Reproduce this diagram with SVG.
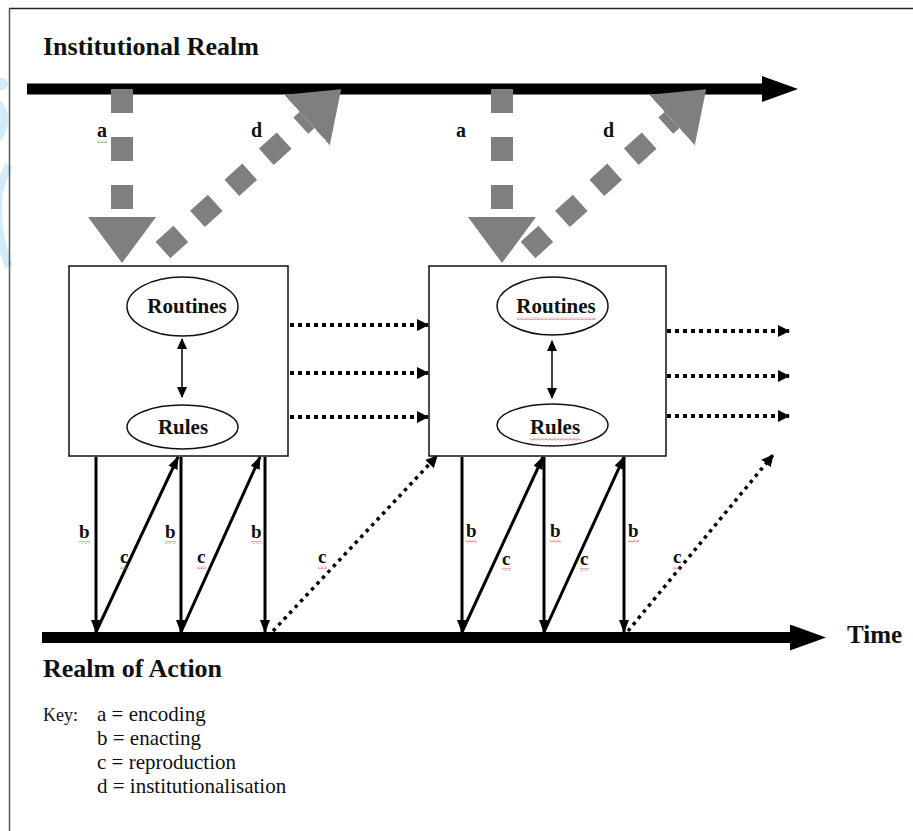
<svg xmlns="http://www.w3.org/2000/svg" width="913" height="831" viewBox="0 0 913 831">
  <style>
    .title { font-family: "Liberation Serif", "Times New Roman", serif; font-weight: bold; font-size: 26px; fill: #111; }
    .lbl { font-family: "Liberation Serif", "Times New Roman", serif; font-weight: bold; font-size: 19px; fill: #111; }
    .node-text { font-family: "Liberation Serif", "Times New Roman", serif; font-weight: bold; font-size: 21px; fill: #111; text-anchor: middle; }
    .key { font-family: "Liberation Serif", "Times New Roman", serif; font-size: 21px; fill: #111; }
    .keyhead { font-family: "Liberation Serif", "Times New Roman", serif; font-size: 18px; fill: #111; }
    .box { fill: #fff; stroke: #111; stroke-width: 1.5; }
    .oval { fill: #fff; stroke: #111; stroke-width: 1.5; }
    .solid { stroke: #000; stroke-width: 3; fill: none; marker-end: url(#headSolid); }
    .dotted { stroke: #000; stroke-width: 4; stroke-dasharray: 4 4; fill: none; marker-end: url(#headDot); }
    .dotdiag { stroke: #000; stroke-width: 3.5; stroke-dasharray: 3.5 4.5; fill: none; marker-end: url(#headDot); }
    .inner { stroke: #000; stroke-width: 1.5; fill: none; marker-start: url(#headSmall); marker-end: url(#headSmall); }
    .gray { stroke: #7f7f7f; stroke-width: 22; fill: none; marker-end: url(#headBig); }
    .timeline { stroke: #000; stroke-width: 11; fill: none; marker-end: url(#headTime); }
    .wm { fill: #d2ecfa; }
  </style>
  <defs>
    <marker id="headSolid" markerUnits="userSpaceOnUse" markerWidth="13" markerHeight="10" refX="12" refY="5" orient="auto">
      <path d="M0,0 L13,5 L0,10 z" fill="#000"/>
    </marker>
    <marker id="headDot" markerUnits="userSpaceOnUse" markerWidth="12" markerHeight="12" refX="11" refY="6" orient="auto">
      <path d="M0,0 L12,6 L0,12 z" fill="#000"/>
    </marker>
    <marker id="headSmall" markerUnits="userSpaceOnUse" markerWidth="11" markerHeight="10" refX="10" refY="5" orient="auto-start-reverse">
      <path d="M0,0 L11,5 L0,10 z" fill="#000"/>
    </marker>
    <marker id="headBig" markerUnits="userSpaceOnUse" markerWidth="46" markerHeight="68" refX="0" refY="34" orient="auto">
      <path d="M0,0 L46,34 L0,68 z" fill="#7f7f7f"/>
    </marker>
    <marker id="headTime" markerUnits="userSpaceOnUse" markerWidth="36" markerHeight="26" refX="0" refY="13" orient="auto">
      <path d="M0,0 L36,13 L0,26 z" fill="#000"/>
    </marker>
    <pattern id="wavyRed" width="4" height="3" patternUnits="userSpaceOnUse">
      <path d="M0,2.5 L2,0.5 L4,2.5" stroke="#e04040" stroke-width="0.9" fill="none"/>
    </pattern>
    <pattern id="wavyGreen" width="4" height="3" patternUnits="userSpaceOnUse">
      <path d="M0,2.5 L2,0.5 L4,2.5" stroke="#3a9a3a" stroke-width="0.9" fill="none"/>
    </pattern>
  </defs>

  <rect x="0" y="0" width="913" height="831" fill="#fff"/>

  <!-- faint watermark fragments at left edge -->
  <g id="watermark">
    <circle class="wm" cx="2" cy="84" r="6"/>
    <path class="wm" d="M0,100 Q9,108 8,122 Q7,134 0,142 z"/>
    <path d="M9,165 Q-4,190 -2,215 Q0,245 9,267" stroke="#d2ecfa" stroke-width="8" fill="none"/>
  </g>

  <!-- frame -->
  <line x1="9" y1="8.5" x2="913" y2="8.5" stroke="#222" stroke-width="1.5"/>
  <line x1="9.5" y1="8" x2="9.5" y2="831" stroke="#555" stroke-width="1.5"/>

  <!-- realms and time axis -->
  <g id="institutional-realm">
    <text class="title" x="43" y="55">Institutional Realm</text>
    <line class="timeline" x1="27" y1="89" x2="762" y2="89"/>
  </g>
  <g id="realm-of-action">
    <line class="timeline" x1="42" y1="637.5" x2="790" y2="637.5"/>
    <text class="title" x="43" y="677">Realm of Action</text>
    <text class="title" x="847" y="643" style="font-size:25px">Time</text>
  </g>

  <!-- nodes -->
  <g id="box1">
    <rect class="box" x="69" y="266" width="219" height="190"/>
    <g id="routines1">
      <ellipse class="oval" cx="182.5" cy="306.5" rx="55.5" ry="29.5"/>
      <text class="node-text" x="187" y="313">Routines</text>
    </g>
    <g id="rules1">
      <ellipse class="oval" cx="182.5" cy="427" rx="55.5" ry="22"/>
      <text class="node-text" x="183" y="434">Rules</text>
    </g>
  </g>
  <g id="box2">
    <rect class="box" x="429" y="266" width="237" height="190"/>
    <g id="routines2">
      <ellipse class="oval" cx="552.5" cy="306" rx="55.5" ry="29"/>
      <text class="node-text" x="556" y="313">Routines</text>
      <rect x="517" y="317" width="79" height="3" fill="url(#wavyRed)"/>
    </g>
    <g id="rules2">
      <ellipse class="oval" cx="552.5" cy="425" rx="55.5" ry="21"/>
      <text class="node-text" x="555" y="434">Rules</text>
      <rect x="530" y="438" width="51" height="3" fill="url(#wavyRed)"/>
    </g>
  </g>

  <!-- connectors -->
  <g id="connectors">
    <!-- a: encoding -->
    <line class="gray" x1="122" y1="89" x2="122" y2="217" stroke-dasharray="24 24"/>
    <line class="gray" x1="502" y1="89" x2="502" y2="217" stroke-dasharray="24 24"/>
    <!-- d: institutionalisation -->
    <line class="gray" x1="163" y1="250" x2="307" y2="120" stroke-dasharray="24 22.4"/>
    <line class="gray" x1="528" y1="250" x2="672" y2="120" stroke-dasharray="24 22.4"/>

    <!-- routines <-> rules -->
    <line class="inner" x1="182" y1="339" x2="182" y2="397"/>
    <line class="inner" x1="552" y1="341" x2="552" y2="398"/>

    <!-- dotted continuity arrows -->
    <line class="dotted" x1="290" y1="325" x2="428" y2="325"/>
    <line class="dotted" x1="290" y1="373" x2="428" y2="373"/>
    <line class="dotted" x1="290" y1="417" x2="428" y2="417"/>
    <line class="dotted" x1="667" y1="331" x2="789" y2="331"/>
    <line class="dotted" x1="667" y1="376" x2="789" y2="376"/>
    <line class="dotted" x1="667" y1="416" x2="789" y2="416"/>

    <!-- b: enacting, c: reproduction (box 1) -->
    <line class="solid" x1="96" y1="457" x2="96" y2="632"/>
    <line class="solid" x1="96" y1="632" x2="178" y2="457"/>
    <line class="solid" x1="181" y1="457" x2="181" y2="632"/>
    <line class="solid" x1="181" y1="632" x2="260" y2="457"/>
    <line class="solid" x1="265" y1="457" x2="265" y2="632"/>
    <line class="dotdiag" x1="273" y1="631" x2="437" y2="456"/>

    <!-- b / c (box 2) -->
    <line class="solid" x1="462" y1="457" x2="462" y2="632"/>
    <line class="solid" x1="462" y1="632" x2="543" y2="457"/>
    <line class="solid" x1="544" y1="457" x2="544" y2="632"/>
    <line class="solid" x1="544" y1="632" x2="624" y2="457"/>
    <line class="solid" x1="624" y1="457" x2="624" y2="632"/>
    <line class="dotdiag" x1="628" y1="631" x2="773" y2="455"/>
  </g>

  <!-- connector labels -->
  <g id="labels">
    <text class="lbl" x="97" y="137" style="font-size:20px">a</text>
    <rect x="97" y="140" width="10" height="3" fill="url(#wavyGreen)"/>
    <text class="lbl" x="251" y="137" style="font-size:20px">d</text>
    <text class="lbl" x="456" y="137" style="font-size:20px">a</text>
    <text class="lbl" x="603" y="137" style="font-size:20px">d</text>

    <text class="lbl" x="79" y="538">b</text>
    <rect x="79" y="541" width="11" height="3" fill="url(#wavyGreen)"/>
    <text class="lbl" x="120" y="563">c</text>
    <rect x="120" y="566" width="9" height="3" fill="url(#wavyGreen)"/>
    <text class="lbl" x="165" y="538">b</text>
    <rect x="165" y="541" width="11" height="3" fill="url(#wavyRed)"/>
    <text class="lbl" x="197" y="563">c</text>
    <rect x="197" y="566" width="9" height="3" fill="url(#wavyRed)"/>
    <text class="lbl" x="251" y="538">b</text>
    <rect x="251" y="541" width="11" height="3" fill="url(#wavyRed)"/>
    <text class="lbl" x="318" y="563">c</text>
    <rect x="318" y="566" width="9" height="3" fill="url(#wavyRed)"/>

    <text class="lbl" x="466" y="537">b</text>
    <rect x="466" y="540" width="11" height="3" fill="url(#wavyRed)"/>
    <text class="lbl" x="502" y="565">c</text>
    <rect x="502" y="568" width="9" height="3" fill="url(#wavyRed)"/>
    <text class="lbl" x="550" y="537">b</text>
    <rect x="550" y="540" width="11" height="3" fill="url(#wavyRed)"/>
    <text class="lbl" x="580" y="565">c</text>
    <rect x="580" y="568" width="9" height="3" fill="url(#wavyRed)"/>
    <text class="lbl" x="628" y="537">b</text>
    <rect x="628" y="540" width="11" height="3" fill="url(#wavyRed)"/>
    <text class="lbl" x="673" y="563">c</text>
    <rect x="673" y="566" width="9" height="3" fill="url(#wavyRed)"/>
  </g>

  <!-- key -->
  <g id="key">
    <text class="keyhead" x="43" y="721">Key:</text>
    <text class="key" x="97" y="721">a = encoding</text>
    <text class="key" x="97" y="745">b = enacting</text>
    <text class="key" x="97" y="769">c = reproduction</text>
    <text class="key" x="97" y="793">d = institutionalisation</text>
  </g>
</svg>
